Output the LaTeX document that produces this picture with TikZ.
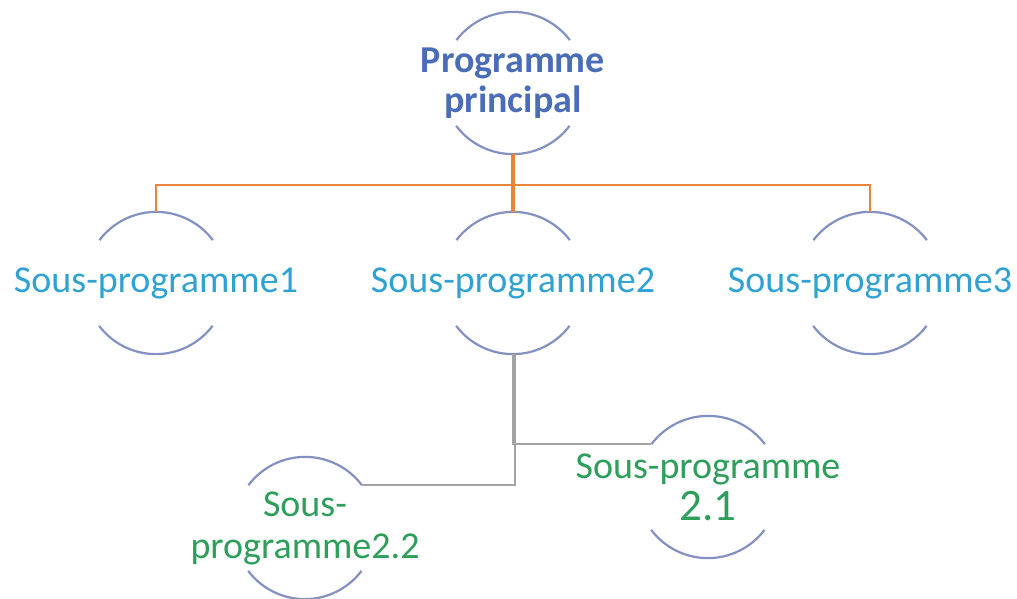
\documentclass[tikz,border=0pt]{standalone}
\usepackage{fontspec}
\setmainfont{Carlito}
\definecolor{arcbleu}{HTML}{8291C2}
\definecolor{titrebleu}{HTML}{4A6DB8}
\definecolor{sousbleu}{HTML}{2FA2D3}
\definecolor{sousvert}{HTML}{2E9E5B}
\definecolor{orangetrait}{HTML}{E8843C}
\definecolor{gristrait}{HTML}{A3A3A3}
\begin{document}
\begin{tikzpicture}[x=1pt,y=-1pt]
			\tikzset{bulle/.style={circle, minimum size=142pt, inner sep=0}}
			\tikzset{bord/.style={line width=2.2pt, draw=arcbleu}}
			\tikzset{titre/.style={text=titrebleu, font=\fontsize{38}{40}\selectfont\bfseries, align=center}}
			\tikzset{niveau1/.style={text=sousbleu, font=\fontsize{38}{42}\selectfont}}
			\tikzset{niveau2/.style={text=sousvert, font=\fontsize{38}{42}\selectfont, align=center}}
			\tikzset{liaison/.style={line width=2pt, draw=orangetrait}}
			\tikzset{branche/.style={line width=2pt, draw=gristrait}}

			\useasboundingbox (0,0) rectangle (1017,599);

			\node[bulle, label={[titre]center:{Programme\\principal}}] at (513, 83) (pp) {};
			\node[bulle, label={[niveau1]center:Sous-programme1}] at (156, 283) (sp1) {};
			\node[bulle, label={[niveau1]center:Sous-programme2}] at (513, 283) (sp2) {};
			\node[bulle, label={[niveau1]center:Sous-programme3}] at (870, 283) (sp3) {};
			\node[bulle, label={[niveau2]center:{Sous-programme\\{\fontsize{45}{42}\selectfont 2.1}}}] at (708, 487) (sp21) {};
			\node[bulle, label={[niveau2]center:{Sous-\\programme2.2}}] at (305, 528) (sp22) {};

			\draw [bord] (pp.37) arc[start angle=37, end angle=143, radius=71pt];
			\draw [bord] (pp.217) arc[start angle=217, end angle=323, radius=71pt];
			\draw [bord] (sp1.37) arc[start angle=37, end angle=143, radius=71pt];
			\draw [bord] (sp1.217) arc[start angle=217, end angle=323, radius=71pt];
			\draw [bord] (sp2.37) arc[start angle=37, end angle=143, radius=71pt];
			\draw [bord] (sp2.217) arc[start angle=217, end angle=323, radius=71pt];
			\draw [bord] (sp3.37) arc[start angle=37, end angle=143, radius=71pt];
			\draw [bord] (sp3.217) arc[start angle=217, end angle=323, radius=71pt];
			\draw [bord] (sp21.37) arc[start angle=37, end angle=143, radius=71pt];
			\draw [bord] (sp21.217) arc[start angle=217, end angle=323, radius=71pt];
			\draw [bord] (sp22.37) arc[start angle=37, end angle=143, radius=71pt];
			\draw [bord] (sp22.217) arc[start angle=217, end angle=323, radius=71pt];

			\draw [liaison] (pp.south) -- ++(0,31) -| (sp1.north);
			\draw [liaison] (pp.south) -- ++(0,31) -| (sp3.north);
			\draw [liaison, line width=3.5pt] (pp.south) -- (sp2.north);

			\draw [branche] (sp2.south) |- (sp21.143);
			\draw [branche] ([xshift=1.5pt]sp2.south) |- (sp22.37);
		\end{tikzpicture}
\end{document}
